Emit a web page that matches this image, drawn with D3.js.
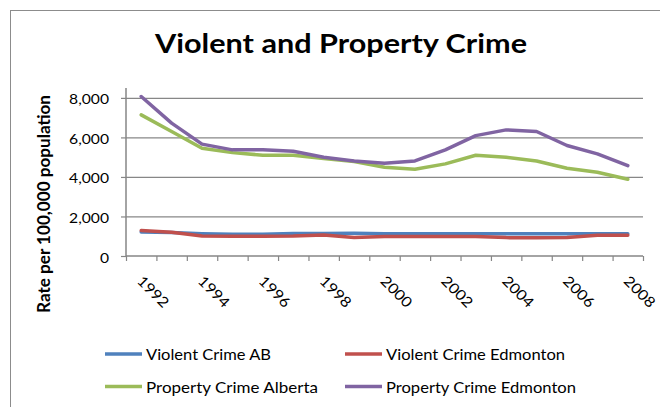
<!DOCTYPE html>
<html>
<head>
<meta charset="utf-8">
<script src="https://cdn.jsdelivr.net/npm/d3@7"></script>
<style>
  html, body { margin: 0; padding: 0; background: #fff; }
  svg { display: block; }
  text { font-family: Lato, "Open Sans", sans-serif; fill: #000; }
</style>
</head>
<body>
<svg id="chart" width="660" height="407"></svg>
<script>
// Rates per 100,000 population, 1992-2008
const years = [1992, 1993, 1994, 1995, 1996, 1997, 1998, 1999, 2000,
               2001, 2002, 2003, 2004, 2005, 2006, 2007, 2008];
const violentAB       = [1220, 1190, 1130, 1100, 1100, 1140, 1140, 1150, 1130,
                         1120, 1120, 1120, 1120, 1120, 1120, 1120, 1120];
const violentEdmonton = [1290, 1200, 1010, 1000, 1000, 1010, 1060, 940, 990,
                         990, 990, 990, 930, 920, 930, 1050, 1050];
const propertyAlberta = [7140, 6300, 5450, 5230, 5100, 5100, 4930, 4780, 4490,
                         4390, 4660, 5100, 5000, 4810, 4440, 4240, 3880];
const propertyEdmonton = [8070, 6720, 5660, 5370, 5370, 5300, 5000, 4810, 4690,
                          4810, 5370, 6090, 6380, 6300, 5590, 5170, 4570];
const seriesNames = ["Violent Crime AB", "Violent Crime Edmonton",
                     "Property Crime Alberta", "Property Crime Edmonton"];
const seriesColors = ["#4F81BD", "#C0504D", "#9BBB59", "#8064A2"];
const yTickValues = [0, 2000, 4000, 6000, 8000];
const xTickLabels = [1992, 1994, 1996, 1998, 2000, 2002, 2004, 2006, 2008];
const titleText = "Violent and Property Crime";
const yTitleText = "Rate per 100,000 population";

const seriesValues = [violentAB, violentEdmonton, propertyAlberta, propertyEdmonton];
const series = seriesNames.map((name, i) => ({
  name, color: seriesColors[i],
  values: years.map((yr, j) => ({ year: yr, value: seriesValues[i][j] }))
}));

const svg = d3.select("#chart");
const plot = { left: 126, right: 643, top: 88, bottom: 256 };

// Horizontally widen a text element by a factor of its natural length
function widen(sel, factor) {
  sel.each(function () {
    const n = this.getComputedTextLength();
    d3.select(this).attr("textLength", n * factor).attr("lengthAdjust", "spacingAndGlyphs");
  });
}
function fitTo(sel, w) {
  sel.attr("textLength", w).attr("lengthAdjust", "spacingAndGlyphs");
}

// outer chart frame
svg.append("rect")
  .attr("x", 10.5).attr("y", 10.5).attr("width", 700).attr("height", 500)
  .attr("fill", "none").attr("stroke", "#8c8c8c").attr("stroke-width", 1);

// title
svg.append("text")
  .attr("x", 155).attr("y", 53)
  .attr("font-size", 26).attr("font-weight", "bold")
  .text(titleText)
  .call(fitTo, 372);

const x = d3.scaleBand().domain(years).range([plot.left, plot.right]).paddingInner(0).paddingOuter(0);
const xEdge = d3.scaleLinear().domain([0, years.length]).range([plot.left, plot.right]);
const y = d3.scaleLinear().domain([0, 8500]).range([plot.bottom, plot.top]);
const cx = d => x(d) + x.bandwidth() / 2;

// horizontal gridlines
const grid = svg.append("g")
  .attr("transform", `translate(${plot.left},0)`)
  .call(d3.axisLeft(y).tickValues(yTickValues.filter(v => v > 0)).tickSize(-(plot.right - plot.left)).tickFormat(""));
grid.select(".domain").remove();
grid.selectAll(".tick line").attr("stroke", "#878787").attr("stroke-width", 1.2);

// y axis
const yAxis = svg.append("g")
  .attr("transform", `translate(${plot.left},0)`)
  .call(d3.axisLeft(y).tickValues(yTickValues).tickSize(5).tickPadding(12).tickFormat(d3.format(",")));
yAxis.select(".domain").attr("stroke", "#868686").attr("stroke-width", 1.5)
  .attr("d", `M0,${plot.bottom}V${plot.top}`);
yAxis.selectAll(".tick line").attr("stroke", "#868686").attr("stroke-width", 1.2);
yAxis.selectAll(".tick text")
  .attr("font-size", 13.5).attr("font-family", "Lato, sans-serif").attr("fill", "#000")
  .attr("dy", 6)
  .call(widen, 1.16);

// x axis: tick marks on category boundaries
const xAxis = svg.append("g")
  .attr("transform", `translate(0,${plot.bottom})`)
  .call(d3.axisBottom(xEdge).tickValues(d3.range(0, years.length + 1)).tickSize(5).tickFormat(""));
xAxis.select(".domain").attr("stroke", "#868686").attr("stroke-width", 1.5)
  .attr("d", `M${plot.left},0H${plot.right}`);
xAxis.selectAll(".tick line").attr("stroke", "#868686").attr("stroke-width", 1.2);

// x labels, rotated
const xLabels = svg.append("g")
  .attr("transform", `translate(0,${plot.bottom})`)
  .call(d3.axisBottom(x).tickValues(xTickLabels).tickSize(0).tickFormat(d3.format("d")));
xLabels.select(".domain").remove();
xLabels.selectAll(".tick text")
  .attr("font-size", 14.5).attr("font-family", "Lato, sans-serif").attr("fill", "#000")
  .attr("x", 0).attr("y", 0).attr("dy", 0)
  .attr("text-anchor", "start")
  .attr("transform", "translate(-5,26) rotate(45)")
  .call(widen, 1.12);

// y axis title
svg.append("text")
  .attr("transform", "translate(50,204) rotate(-90)")
  .attr("text-anchor", "middle")
  .attr("font-size", 16.5).attr("font-weight", "bold")
  .text(yTitleText)
  .call(fitTo, 218);

// series lines
const line = d3.line().x(d => cx(d.year)).y(d => y(d.value));
svg.append("g").selectAll("path")
  .data(series).join("path")
  .attr("d", d => line(d.values))
  .attr("fill", "none")
  .attr("stroke", d => d.color)
  .attr("stroke-width", 3.5)
  .attr("stroke-linejoin", "round")
  .attr("stroke-linecap", "round");

// legend, two columns by two rows
const legendCols = [105, 345];
const legendRows = [354, 386.5];
const legendWidths = [125, 179, 172, 190];
const legend = svg.append("g").selectAll("g")
  .data(series).join("g")
  .attr("transform", (d, i) => `translate(${legendCols[i % 2]},${legendRows[Math.floor(i / 2)]})`);
legend.append("line")
  .attr("x1", 0).attr("x2", 37).attr("y1", 0).attr("y2", 0)
  .attr("stroke", d => d.color).attr("stroke-width", 3.5);
legend.append("text")
  .attr("x", 41).attr("y", 6)
  .attr("font-size", 15)
  .text(d => d.name)
  .each(function (d, i) { d3.select(this).call(fitTo, legendWidths[i]); });
</script>
</body>
</html>
